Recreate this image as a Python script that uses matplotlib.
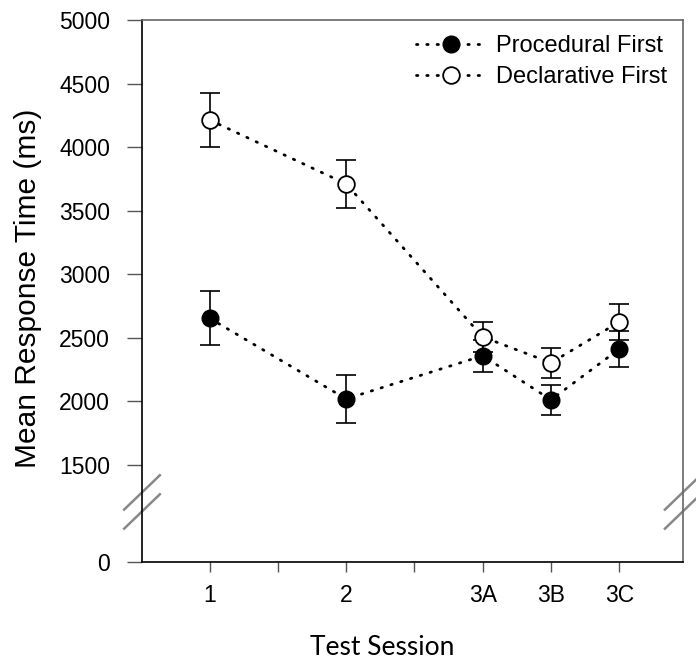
import matplotlib
matplotlib.use("Agg")
import matplotlib.pyplot as plt
import matplotlib.transforms as mtransforms
import numpy as np

# ---- data ----
sessions = ["1", "2", "3A", "3B", "3C"]
session_pos = [1, 3, 5, 6, 7]          # slot positions along the x axis
minor_pos = [2, 4]                      # unlabeled tick slots
procedural_mean = [2655, 2020, 2360, 2013, 2413]
procedural_err = [210, 190, 125, 118, 140]
declarative_mean = [4214, 3711, 2508, 2304, 2626]
declarative_err = [212, 190, 118, 117, 141]
y_ticks = [1500, 2000, 2500, 3000, 3500, 4000, 4500, 5000]
y_zero_pos = 737   # where "0" sits on the compressed (broken) part of the axis

plt.rcParams['font.family'] = ['Liberation Sans', 'DejaVu Sans']

fig = plt.figure(figsize=(6.96, 6.66), dpi=100)
ax = fig.add_axes([0.204, 0.156, 0.777, 0.814])

line_style = dict(color='black', linewidth=2.0, linestyle=(0, (0.5, 3.2)),
                  dash_capstyle='round', markersize=12, marker='o')
err_style = dict(fmt='none', capsize=7, elinewidth=1.2, capthick=1.2, ecolor='black')

ax.errorbar(session_pos, procedural_mean, yerr=procedural_err, zorder=2, **err_style)
ax.errorbar(session_pos, declarative_mean, yerr=declarative_err, zorder=2, **err_style)
h1, = ax.plot(session_pos, procedural_mean, markerfacecolor='black',
              markeredgecolor='black', label='Procedural First', zorder=3, **line_style)
h2, = ax.plot(session_pos, declarative_mean, markerfacecolor='white',
              markeredgecolor='black', markeredgewidth=1.3,
              label='Declarative First', zorder=4, **line_style)

ax.set_xlim(0.01, 7.93)
ax.set_ylim(y_zero_pos, 5000)

ax.set_xticks(session_pos + minor_pos)
ax.set_xticklabels(sessions + ["", ""])
ax.set_yticks([y_zero_pos] + y_ticks)
ax.set_yticklabels(["0"] + [str(v) for v in y_ticks])
ax.tick_params(axis='both', direction='out', width=1, color='#555555', labelsize=16.5)
ax.tick_params(axis='y', length=11, pad=12)
ax.tick_params(axis='x', length=7, pad=9)

for s in ax.spines.values():
    s.set_linewidth(1.2)
    s.set_color('black')
ax.spines['right'].set_color('#666666')
ax.spines['top'].set_color('#666666')

ax.set_ylabel('Mean Response Time (ms)', fontsize=21.5)
ax.yaxis.set_label_coords(-(142 - 42) / 541, (562 - 288) / 542)
ax.set_xlabel('Test Session', fontsize=19, family=['Lato', 'DejaVu Sans'])
ax.xaxis.set_label_coords((382 - 142) / 541, -0.135)

# axis break marks
trans = mtransforms.blended_transform_factory(ax.transAxes, ax.transData)
dx = 0.033
for xa in (0.0, 1.0):
    for y0 in (1000, 1150):
        ax.plot([xa - dx, xa + dx], [y0, y0 + 270], transform=trans,
                color='#888888', linewidth=1.8, clip_on=False)

leg = ax.legend(handles=[h1, h2], loc='upper right', frameon=False, fontsize=17,
                handlelength=3.0, numpoints=1, borderaxespad=0.25,
                labelspacing=0.38, handletextpad=0.4)

fig.savefig('out.png', dpi=100)
